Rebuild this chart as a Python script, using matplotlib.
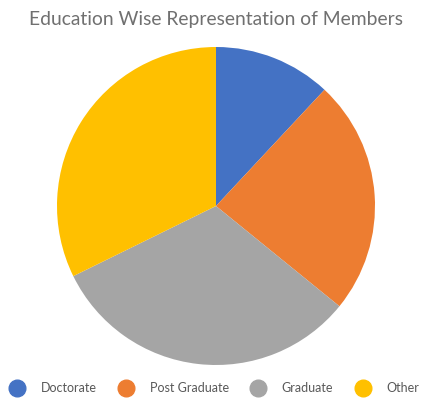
import matplotlib.pyplot as plt
from matplotlib.lines import Line2D

labels = ['Doctorate', 'Post Graduate', 'Graduate', 'Other']
members = [12, 24, 32, 32.4]
colors = ['#4472C4', '#ED7D31', '#A5A5A5', '#FFC000']

plt.rcParams['font.family'] = ['Lato', 'DejaVu Sans']

fig = plt.figure(figsize=(4.23, 3.98), dpi=100)
ax = fig.add_axes([(216 - 159) / 423, (398 - 206 - 159) / 398, 318 / 423, 318 / 398])

ax.pie(members, colors=colors, startangle=90, counterclock=False,
       wedgeprops={'linewidth': 0})
ax.set_xlim(-1, 1)
ax.set_ylim(-1, 1)
ax.set_aspect('equal')

fig.text(216 / 423, 1 - 19 / 398, 'Education Wise Representation of Members',
         ha='center', va='center', fontsize=13.9, color='#707070')

handles = [Line2D([], [], marker='o', linestyle='none', markersize=12,
                  markerfacecolor=c, markeredgecolor=c) for c in colors]
fig.legend(handles, labels, loc='center', bbox_to_anchor=(0.508, 1 - 388 / 398),
           ncol=4, frameon=False, fontsize=9, labelcolor='#595959',
           handletextpad=1.4, columnspacing=1.85, handlelength=1.0,
           borderpad=0.1, borderaxespad=0)

plt.savefig('out.png', dpi=100)
